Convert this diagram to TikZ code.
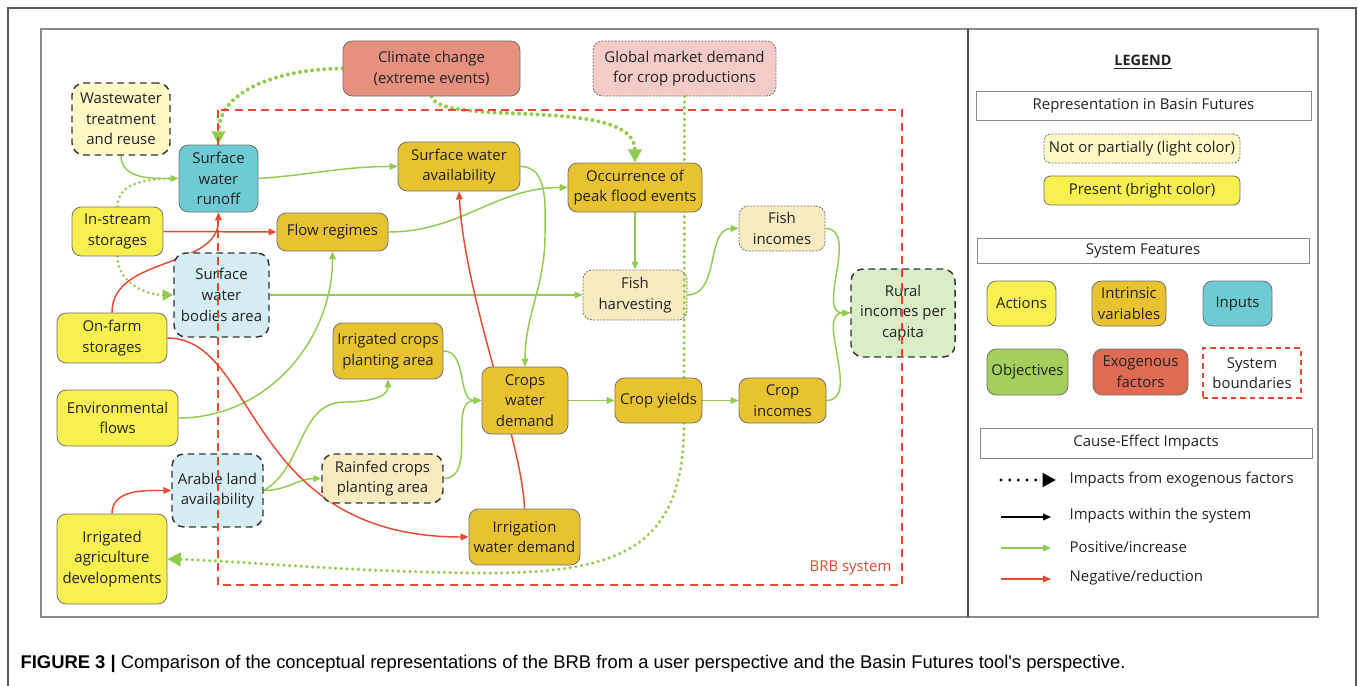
\documentclass[tikz,border=0pt]{standalone}
\usepackage{fontspec}
\setmainfont{Open Sans}
\newfontfamily\capfont{Liberation Sans}
\usetikzlibrary{arrows.meta, positioning}

\definecolor{actcol}{HTML}{F8F04E}
\definecolor{intcol}{HTML}{E9C230}
\definecolor{inpcol}{HTML}{6ECAD3}
\definecolor{objcol}{HTML}{A3CF5B}
\definecolor{exocol}{HTML}{DF6B53}
\definecolor{cccol}{HTML}{E6907F}
\definecolor{actlight}{HTML}{FFF9C6}
\definecolor{intlight}{HTML}{F8EBC0}
\definecolor{inplight}{HTML}{D5EEF3}
\definecolor{objlight}{HTML}{D9EDC7}
\definecolor{exolight}{HTML}{F4CBC6}
\definecolor{poscol}{HTML}{92CC4E}
\definecolor{negcol}{HTML}{E5492F}
\definecolor{boxline}{HTML}{707070}
\definecolor{framecol}{HTML}{8A8A8A}
\definecolor{txtcol}{HTML}{222222}

\pgfdeclarelayer{edgelayer}
\pgfdeclarelayer{lightlayer}
\pgfdeclarelayer{overlayer}
\pgfsetlayers{edgelayer,lightlayer,overlayer,main}

\tikzset{
  every node/.style={font=\fontsize{11.2}{15.5}\selectfont, align=center, inner sep=1pt, text=txtcol},
  sz/.style 2 args={minimum width=#1*0.75pt, minimum height=#2*0.75pt},
  box/.style={rounded corners=7pt, draw=boxline, line width=0.6pt},
  act/.style={box, fill=actcol},
  intr/.style={box, fill=intcol},
  inp/.style={box, fill=inpcol},
  obj/.style={box, fill=objcol},
  exobox/.style={box, fill=exocol},
  lightdash/.style={rounded corners=9pt, draw=black!80, line width=1.1pt, dash pattern=on 5pt off 3.5pt},
  lightdot/.style={rounded corners=7pt, draw=black!55, line width=0.6pt, dash pattern=on 1.5pt off 1pt},
  titlebox/.style={draw=framecol, line width=0.6pt, inner sep=0pt},
  posarrow/.style={draw=poscol, line width=1.1pt, -{Triangle[length=6pt,width=5pt]}},
  negarrow/.style={draw=negcol, line width=1.1pt, -{Triangle[length=6pt,width=5pt]}},
  exoarrow/.style={draw=poscol, line width=3pt, line cap=round, dash pattern=on 0pt off 4.6pt,
    -{Triangle[length=10pt,width=10pt]}},
  thindot/.style={draw=poscol, line width=2.2pt, line cap=round, dash pattern=on 0pt off 3.8pt},
}

\begin{document}
\begin{tikzpicture}[x=0.75pt, y=-0.75pt]
  \useasboundingbox (0,0) rectangle (1358,685);
  % Frames
  \draw[black!65, line width=1.1pt] (8,690) -- (8,8) -- (1356,8) -- (1356,690);
  \draw[framecol, line width=0.8pt] (41,29) rectangle (1318,617);
  \draw[black!70, line width=1pt] (968,29) -- (968,617);

  % Light nodes (not or partially represented)
  \begin{pgfonlayer}{lightlayer}
  \node[lightdash, fill=actlight, sz={98}{72}] (wwt) at (121,119) {Wastewater\\treatment\\and reuse};
  \node[lightdash, fill=inplight, sz={95}{84}] (swb) at (221.5,295) {Surface\\water\\bodies area};
  \node[lightdash, fill=inplight, sz={91}{73}] (ala) at (217.5,490.5) {Arable land\\availability};
  \node[lightdash, fill=intlight, sz={121}{49}] (rcpa) at (382.5,478.5) {Rainfed crops\\planting area};
  \node[lightdash, fill=objlight, sz={104}{88}] (ri) at (903,313) {Rural\\incomes per\\capita};
  \node[lightdot, fill=intlight, sz={104}{50}] (fh) at (635,295) {Fish\\harvesting};
  \node[lightdot, fill=intlight, sz={86}{45}] (fi) at (782,228.5) {Fish\\incomes};
  \node[lightdot, fill=exolight, sz={183}{55}] (gmd) at (684.5,68.5) {Global market demand\\for crop productions};
  \end{pgfonlayer}

  % Bright nodes (present)
  \node[inp, sz={79}{67}] (runoff) at (218.5,178.5) {Surface\\water\\runoff};
  \node[intr, sz={122}{49}] (swa) at (459,166.5) {Surface water\\availability};
  \node[intr, sz={134}{49}] (occ) at (635,187.5) {Occurrence of\\peak flood events};
  \node[intr, sz={111}{38}] (flow) at (332.5,232) {Flow regimes};
  \node[act, sz={91}{49}] (iss) at (117.5,231.5) {In-stream\\storages};
  \node[act, sz={110}{50}] (ofs) at (112,338) {On-farm\\storages};
  \node[box, fill=cccol, sz={177}{55}] (cc) at (431.5,68.5) {Climate change\\(extreme events)};
  \node[intr, sz={110}{56}] (icpa) at (388,351) {Irrigated crops\\planting area};
  \node[act, sz={121}{56}] (ef) at (117.5,418) {Environmental\\flows};
  \node[act, sz={110}{90}] (iad) at (112,559) {Irrigated\\agriculture\\developments};
  \node[intr, sz={86}{67}] (cwd) at (525,400.5) {Crops\\water\\demand};
  \node[intr, sz={87}{45}] (cy) at (658.5,400.5) {Crop yields};
  \node[intr, sz={87}{45}] (ci) at (782.5,400.5) {Crop\\incomes};
  \node[intr, sz={111}{56}] (iwd) at (524.5,537) {Irrigation\\water demand};

  % System boundary and market demand path
  \begin{pgfonlayer}{overlayer}
  \draw[negcol, line width=1.1pt, dash pattern=on 6pt off 4pt] (218,110) rectangle (902,585);
  \node[anchor=east, text=negcol] (brb) at (893,568) {BRB system};
  \draw[exoarrow, line width=2.6pt, dash pattern=on 0pt off 4.3pt] (gmd.south) -- (684,430)
    .. controls (681,545) and (625,574) .. (480,573)
    .. controls (350,572) and (240,561) .. (iad.east);
  \end{pgfonlayer}

  % Cause-effect links
  \begin{pgfonlayer}{edgelayer}
  \draw[posarrow] (wwt.south) to[out=-90,in=180] (runoff.west);
  \draw[thindot] (iss.north) to[out=90,in=180] (runoff.west);
  \draw[thindot, -{Triangle[length=8pt,width=8pt]}] (iss.south) to[out=-90,in=180] (swb.west);
  \draw[posarrow] (runoff.east) to[out=4,in=180] (swa.west);
  \draw[posarrow] (swa.east) to[out=0,in=90] (545,235) to[out=-90,in=90] (cwd.north);
  \draw[posarrow] (flow.east) to[out=0,in=180] (occ.west);
  \draw[posarrow] (occ.south) -- (fh.north);
  \draw[posarrow] (swb.east) -- (fh.west);
  \draw[posarrow] (ef.east) to[out=0,in=-90] (flow.south);
  \draw[posarrow] (fh.east) to[out=0,in=180] (fi.west);
  \draw[posarrow] (fi.east) to[out=0,in=180] (ri.west);
  \draw[posarrow] (ci.east) to[out=0,in=180] (ri.west);
  \draw[posarrow] (icpa.east) to[out=0,in=180] (cwd.west);
  \draw[posarrow] (rcpa.east) to[out=0,in=180] (cwd.west);
  \draw[posarrow] (ala.east) to[out=30,in=180] (345,402) to[out=0,in=-90] (icpa.south);
  \draw[posarrow] (ala.east) to[out=0,in=180] (rcpa.west);
  \draw[posarrow] (cwd.east) -- (cy.west);
  \draw[posarrow] (cy.east) -- (ci.west);
  \draw[exoarrow] (cc.west) to[out=180,in=90] (runoff.north);
  \draw[exoarrow] (cc.south) .. controls (440,128) and (635,95) .. (occ.north);
  \draw[negarrow] (iss.east) -- (flow.west);
  \draw[negarrow] (ofs.north) to[out=90,in=-90] (runoff.south);
  \draw[negarrow] (ofs.east) .. controls (258,338) and (245,537) .. (iwd.west);
  \draw[negarrow] (iwd.north) .. controls (522,440) and (465,300) .. (swa.south);
  \draw[negarrow] (iad.north) to[out=90,in=180] (ala.west);
  \end{pgfonlayer}

  % Legend
  \node[font=\fontsize{10.8}{13}\selectfont\bfseries] (leg) at (1143,62) {\underline{LEGEND}};
  \node[titlebox, sz={335}{29}] (rep) at (1143.5,105.5) {Representation in Basin Futures};
  \node[lightdot, rounded corners=5pt, fill=actlight, sz={196}{29}] (notp) at (1142,148.5) {Not or partially (light color)};
  \node[act, rounded corners=5pt, sz={196}{29}] (pres) at (1142,190.5) {Present (bright color)};
  \node[titlebox, sz={332}{25}] (sysf) at (1143,250.5) {System Features};
  \node[act, sz={69}{45}] (lact) at (1021.5,303.5) {Actions};
  \node[intr, sz={74}{45}] (lint) at (1129,303.5) {Intrinsic\\variables};
  \node[inp, sz={69}{45}] (linp) at (1237.5,303.5) {Inputs};
  \node[obj, sz={81}{46}] (lobj) at (1027.5,372) {Objectives};
  \node[exobox, sz={95}{46}] (lexo) at (1140.5,372) {Exogenous\\factors};
  \node[draw=negcol, line width=1pt, dash pattern=on 4pt off 3pt, sz={98}{50}] (lsys) at (1252,373) {System\\boundaries};
  \node[titlebox, sz={332}{30}] (cei) at (1146,443) {Cause-Effect Impacts};
  \coordinate (a1) at (1001,480); \coordinate (b1) at (1056,480);
  \coordinate (a2) at (1001,517); \coordinate (b2) at (1051,517);
  \coordinate (a3) at (1001,548); \coordinate (b3) at (1051,548);
  \coordinate (a4) at (1001,579); \coordinate (b4) at (1051,579);
  \draw[black, line width=2.4pt, line cap=round, dash pattern=on 0pt off 6.5pt,
    -{Triangle[length=10pt,width=10pt]}] (a1) -- (b1);
  \draw[black, line width=1.1pt, -{Triangle[length=6pt,width=5pt]}] (a2) -- (b2);
  \draw[posarrow] (a3) -- (b3);
  \draw[negarrow] (a4) -- (b4);
  \node[anchor=west] (t1) at (1068,480) {Impacts from exogenous factors};
  \node[anchor=west] (t2) at (1068,516) {Impacts within the system};
  \node[anchor=west] (t3) at (1068,547) {Positive/increase};
  \node[anchor=west] (t4) at (1068,578) {Negative/reduction};

  % Caption
  \node[anchor=west, font=\capfont\fontsize{13.8}{16}\selectfont, text=black] (cap) at (19,664)
    {\textbf{FIGURE 3 |} Comparison of the conceptual representations of the BRB from a user perspective and the Basin Futures tool's perspective.};
\end{tikzpicture}
\end{document}
